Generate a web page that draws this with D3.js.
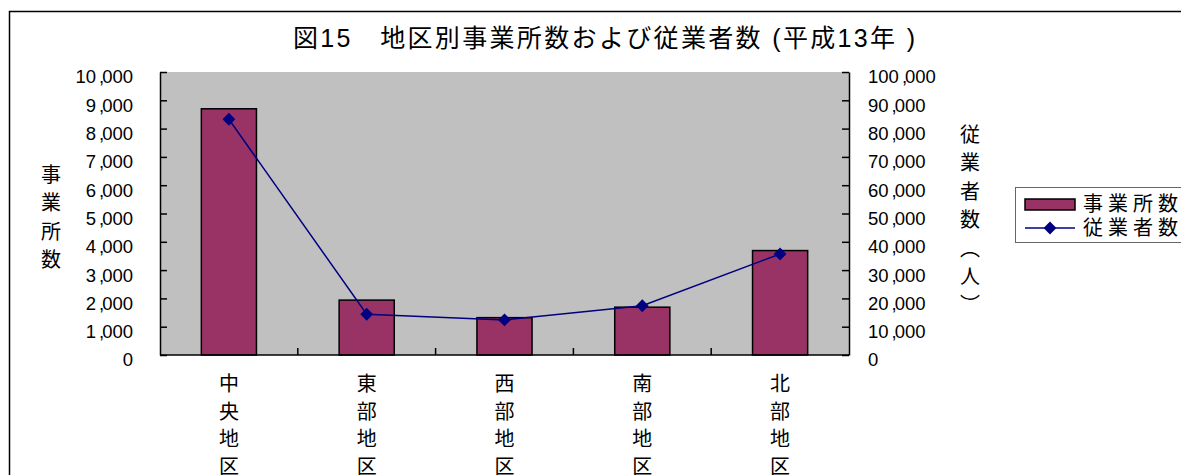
<!DOCTYPE html>
<html>
<head>
<meta charset="utf-8">
<script src="https://cdn.jsdelivr.net/npm/d3@7"></script>
<style>
  body { margin: 0; background: #fff; }
  svg text { font-family: "Liberation Sans", Arial, "Noto Sans CJK JP", sans-serif; fill: #000; }
</style>
</head>
<body>
<svg width="1181" height="475"></svg>
<script>
const CATEGORIES = ['中央地区', '東部地区', '西部地区', '南部地区', '北部地区'];
const OFFICES = [8700, 1940, 1320, 1690, 3690];       // 事業所数
const WORKERS = [83300, 14400, 12400, 17400, 35700];  // 従業者数
const LEFT_TICKS = [0, 1000, 2000, 3000, 4000, 5000, 6000, 7000, 8000, 9000, 10000];
const RIGHT_TICKS = [0, 10000, 20000, 30000, 40000, 50000, 60000, 70000, 80000, 90000, 100000];

const TITLE = '図15　地区別事業所数および従業者数 (平成13年 )';
const LEFT_TITLE = '事業所数';
const RIGHT_TITLE = '従業者数︵人︶';
const LEGEND = ['事業所数', '従業者数'];

const PLOT = { left: 160, right: 849, top: 72, bottom: 355 };
const BAR_COLOR = '#993366';
const LINE_COLOR = '#000080';

const svg = d3.select('svg');

// 外枠 (右と下は画面外)
svg.append('rect')
    .attr('x', 9.5).attr('y', 11.5)
    .attr('width', 1300).attr('height', 600)
    .attr('fill', 'none').attr('stroke', '#000').attr('stroke-width', 1.5);

svg.append('text')
    .attr('x', 604).attr('y', 47)
    .attr('text-anchor', 'middle')
    .attr('font-size', 25)
    .attr('font-family', '"Noto Sans CJK JP", sans-serif')
    .attr('textLength', 622)
    .text(TITLE);

const x = d3.scaleBand().domain(CATEGORIES).range([PLOT.left, PLOT.right]).padding(0);
const yLeft = d3.scaleLinear().domain([0, 10000]).range([PLOT.bottom, PLOT.top]);
const yRight = d3.scaleLinear().domain([0, 100000]).range([PLOT.bottom, PLOT.top]);

// プロットエリア
svg.append('rect')
    .attr('x', PLOT.left).attr('y', PLOT.top)
    .attr('width', PLOT.right - PLOT.left).attr('height', PLOT.bottom - PLOT.top)
    .attr('fill', '#c0c0c0');

const barW = x.bandwidth() / 2.5; // gap 150%

svg.append('g')
    .selectAll('.bar')
    .data(OFFICES)
    .enter()
    .append('rect')
    .classed('bar', true)
    .attr('x', (d, i) => x(CATEGORIES[i]) + (x.bandwidth() - barW) / 2)
    .attr('y', d => yLeft(d))
    .attr('width', barW)
    .attr('height', d => PLOT.bottom - yLeft(d))
    .attr('fill', BAR_COLOR)
    .attr('stroke', '#000')
    .attr('stroke-width', 1.5);

// 数値ラベル "10,000" の桁区切りを詰めて描く
function numLabel(sel) {
    sel.each(function(d) {
        const t = d3.select(this).text('');
        const s = d3.format(',')(d).split(',');
        t.append('tspan').text(s[0]);
        for (let k = 1; k < s.length; k++) {
            t.append('tspan').attr('dx', 3).text(',');
            t.append('tspan').attr('dx', -2).text(s[k]);
        }
    });
}

const leftAxis = svg.append('g')
    .attr('transform', `translate(${PLOT.left},0)`)
    .call(d3.axisLeft(yLeft).tickValues(LEFT_TICKS).tickSizeInner(-7).tickSizeOuter(0).tickPadding(27));
leftAxis.selectAll('text').attr('y', 5).call(numLabel);

const rightAxis = svg.append('g')
    .attr('transform', `translate(${PLOT.right},0)`)
    .call(d3.axisRight(yRight).tickValues(RIGHT_TICKS).tickSizeInner(-7).tickSizeOuter(0).tickPadding(19));
rightAxis.selectAll('text').attr('y', 5).call(numLabel);

[leftAxis, rightAxis].forEach(a => {
    a.attr('font-size', 18.5).attr('font-family', '"Liberation Sans", Arial, sans-serif');
    a.selectAll('path, line').attr('stroke', '#000').attr('stroke-width', 1.5);
});

// 横軸 (目盛は項目の境界)
const bottom = svg.append('g');
bottom.append('line')
    .attr('x1', PLOT.left).attr('x2', PLOT.right)
    .attr('y1', PLOT.bottom).attr('y2', PLOT.bottom)
    .attr('stroke', '#000').attr('stroke-width', 1.5);
bottom.selectAll('.tick')
    .data(CATEGORIES.slice(1))
    .enter()
    .append('line')
    .attr('x1', d => x(d)).attr('x2', d => x(d))
    .attr('y1', PLOT.bottom).attr('y2', PLOT.bottom - 7)
    .attr('stroke', '#000').attr('stroke-width', 1.5);

// 縦書きの文字列
function verticalText(g, str, cx, y0, step, size) {
    g.selectAll(null)
        .data(Array.from(str))
        .enter()
        .append('text')
        .attr('x', cx)
        .attr('y', (c, i) => y0 + i * step)
        .attr('text-anchor', 'middle')
        .attr('dominant-baseline', 'central')
        .attr('font-size', size)
        .attr('font-family', '"Noto Sans CJK JP", sans-serif')
        .text(c => c);
}

CATEGORIES.forEach(c => {
    verticalText(svg.append('g'), c, x(c) + x.bandwidth() / 2, 384, 27.5, 20);
});

verticalText(svg.append('g'), LEFT_TITLE, 51, 175, 28.4, 20);
verticalText(svg.append('g'), RIGHT_TITLE, 970, 135, 28.4, 20);

// 折れ線
const line = d3.line()
    .x((d, i) => x(CATEGORIES[i]) + x.bandwidth() / 2)
    .y(d => yRight(d));

svg.append('path')
    .datum(WORKERS)
    .attr('d', line)
    .attr('fill', 'none')
    .attr('stroke', LINE_COLOR)
    .attr('stroke-width', 1.5);

const diamond = d3.symbol().type(d3.symbolDiamond2).size(105);
svg.append('g')
    .selectAll('.pt')
    .data(WORKERS)
    .enter()
    .append('path')
    .classed('pt', true)
    .attr('transform', (d, i) => `translate(${x(CATEGORIES[i]) + x.bandwidth() / 2},${yRight(d)})`)
    .attr('d', diamond)
    .attr('fill', LINE_COLOR);

// 凡例
const legend = svg.append('g').attr('transform', 'translate(1015,187)');
legend.append('rect')
    .attr('x', 0.5).attr('y', 0.5).attr('width', 300).attr('height', 55)
    .attr('fill', '#fff').attr('stroke', '#666').attr('stroke-width', 1);
legend.append('rect')
    .attr('x', 10).attr('y', 12).attr('width', 50).attr('height', 11)
    .attr('fill', BAR_COLOR).attr('stroke', '#000').attr('stroke-width', 1.5);
legend.append('line')
    .attr('x1', 10).attr('x2', 60).attr('y1', 41).attr('y2', 41)
    .attr('stroke', LINE_COLOR).attr('stroke-width', 1.5);
legend.append('path')
    .attr('transform', 'translate(35,41)')
    .attr('d', diamond)
    .attr('fill', LINE_COLOR);
legend.selectAll('.lt')
    .data(LEGEND)
    .enter()
    .append('text')
    .attr('x', 68)
    .attr('y', (d, i) => 17 + i * 24)
    .attr('dominant-baseline', 'central')
    .attr('font-size', 20)
    .attr('letter-spacing', 5)
    .attr('font-family', '"Noto Sans CJK JP", sans-serif')
    .text(d => d);
</script>
</body>
</html>
